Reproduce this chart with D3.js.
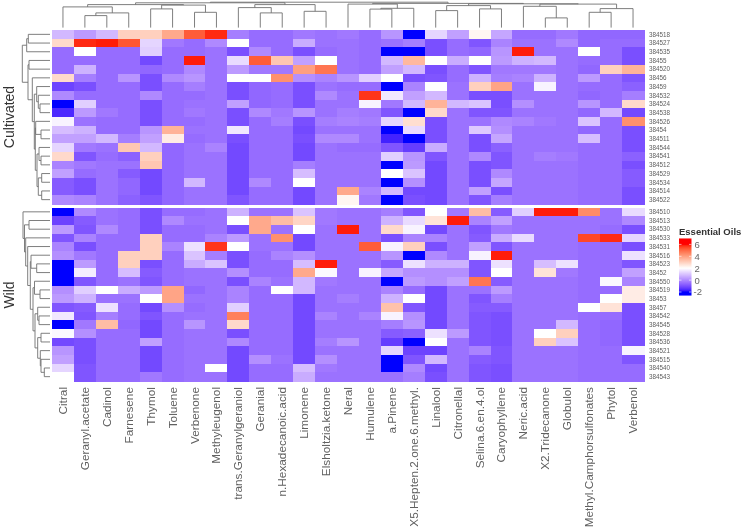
<!DOCTYPE html>
<html><head><meta charset="utf-8">
<script src="https://cdn.jsdelivr.net/npm/d3@7"></script>
<style>html,body{margin:0;padding:0;background:#fff}svg{display:block;font-family:"Liberation Sans",Arial,sans-serif;filter:blur(0.4px)}</style>
</head><body><svg id="c" width="745" height="529"></svg>
<script>
const columns=["Citral","Geranyl.acetate","Cadinol","Farnesene","Thymol","Toluene","Verbenone","Methyleugenol","trans.Geranylgeraniol","Geranial","n.Hexadecanoic.acid","Limonene","Elsholtzia.ketone","Neral","Humulene","a.Pinene","X5.Hepten.2.one.6.methyl.","Linalool","Citronellal","Selina.6.en.4.ol","Caryophyllene","Neric.acid","X2.Tridecanone","Globulol","Methyl.Camphorsulfonates","Phytol","Verbenol"];
const rowsCultivated=["384518","384527","384535","38455","384520","38456","38459","384532","384524","384538","384526","38454","384511","384544","384541","384512","384529","384534","384514","384522"];
const rowsWild=["384510","384513","384530","384533","384531","384516","384523","38452","384550","384519","38453","38457","384542","384545","384528","384536","384521","384515","384540","384543"];
const valuesCultivated=[
[.8,.3,.8,3,3,3.8,5.2,5.8,-.2,-.5,-.5,-.3,-.4,-.3,-.5,.2,-2,1.3,.4,2.2,.5,-.5,-.5,-.3,-.6,-.6,-.6],
[2.8,5.8,5.9,5.3,1.3,-.3,-.5,0,2,-.5,-.5,.6,-.4,-.4,-.5,-.4,-.2,-1,-.5,-.9,-.1,-.4,-.4,0,-.6,-.5,-.5],
[-.5,2,-.5,-.5,1.2,-.5,-.5,-.4,-1,0,-.5,-1,-.5,-.4,-.5,-2,-2,-1,-.5,-.6,.2,5.9,-.4,-.4,2,-.5,-1],
[-.5,-.5,-.5,-.5,-1.1,-.5,5.9,-.4,1.4,5.2,3.2,.4,2,-.4,-.5,.8,3.5,2,.6,2,.3,.7,.8,-.4,-.5,-.5,-1],
[-.5,.7,-.5,-.5,-.6,-.5,0,-.4,.3,-.3,-.3,4,4.8,-.4,-.5,.4,.8,-1,-.5,-.9,-.3,-.3,-.3,-.4,-.6,3,3.6],
[2.8,-.2,-.5,.2,-1,0,.2,-.4,2,2,4.3,.1,-.1,.2,1.2,2,-1,-.9,-.5,.7,-.2,-.1,.7,-.4,.3,-.5,-.9],
[-1.2,-1,-.5,-.5,-1,-.5,-.2,-.4,-1,-.6,-.5,-1,-.4,-.5,-.5,-2,-.1,2,-.4,3,3.9,-.4,1.8,-.4,-.5,-.5,-.7],
[0,-.5,-.5,-.5,0,-.5,-.5,-.4,-1,-.6,-.5,-1,0,-.4,5.7,1.6,.4,.8,-.4,-1,-1,-.4,-.4,-.4,-.6,-.5,-.2],
[-2,1.2,-.5,-.5,-1,-.5,-.4,-.4,.4,-.6,-.5,-1,-.4,-.4,1.8,-.3,.8,3.6,.8,1,-1,.1,-.4,-.4,.2,-.5,2.8],
[-1.6,.3,-.3,-.5,-1,-.5,-.3,-.4,-1,0,-.3,.2,-.4,-.2,-.3,-.9,-2,2.8,-.4,-.9,-.9,-.4,-.4,-.4,-.6,.8,-1.1],
[1.8,-.4,-.5,-.5,-1,-.5,-.5,-.4,-1,-.5,-.2,-1,-.2,-.1,-.2,1.3,2.7,-1,-.4,-.4,0,-.1,-.3,-.4,1,-.5,4.3],
[.9,.7,-.5,-.5,.2,3.6,-.4,-.4,1.6,-.5,-.5,-1.1,-.4,-.4,-.4,-2,1.4,-1,-.4,1.1,.1,-.4,-.4,-.4,-.6,-.5,-1],
[.4,.4,.8,-.2,.4,2.4,-.5,-.4,-1,-.5,-.5,-1,0,0,-.4,-1.7,-2,-1,-.4,-1,.5,-.4,-.4,-.4,.9,-.5,-1],
[1.3,-.3,-.4,3.2,.8,-.6,-.4,-.1,-1.1,-.5,-.5,-1.1,-.4,-.5,-.5,-.9,-1.3,.6,-.4,-1,-.7,-.4,-.4,-.4,-.5,-.5,-1],
[2.8,-.9,-.5,-.7,3,-.6,-.4,-.4,-1.1,-.5,-.5,-1.1,-.4,-.4,-.4,1.2,.2,-.9,-.4,0,-.9,-.4,-.2,-.3,-.5,-.5,-.7],
[-.1,-.3,-.4,-.4,3.2,-.6,-.4,-.4,-1.1,-.5,-.5,-.2,-.4,-.4,-.4,-2,.3,-1.1,-.4,-1,-.9,-.4,-.4,-.4,-.5,-.5,-1],
[.4,-.5,-.4,-.8,-1.1,-.6,-.4,-.4,-1.1,-.5,-.5,.9,-.4,-.4,-.4,2,1,-1.1,-.4,-1,0,-.4,-.4,-.4,-.5,-.5,-.8],
[-.8,-1,-.4,-.6,-1.1,-.6,.8,-.4,-1.1,0,-.5,2,-.4,-.4,-.4,-2,.1,-1.1,-.4,-1,.5,-.4,-.4,-.4,-.5,-.5,-.8],
[-.8,-1,-.4,-.6,-1.1,-.6,-.4,-.4,-1.1,-.5,-.5,-1.1,-.4,3.8,-.1,.8,-1.1,-1.1,-.4,.4,-1,-.4,-.4,-.4,-.5,-.5,-1],
[0,-.1,-.4,-.7,-.9,-.6,-.4,-.4,-.9,-.5,-.5,-1.1,-.4,2.2,-.3,-2,-1,-1.1,-.4,-.9,-.2,-.4,-.4,-.4,-.5,-.5,-1]];
const valuesWild=[
[-2,0,-.4,-.5,-1,-.5,-.5,-.4,.7,-.4,-.4,1,-.3,-.4,-.4,-.2,-.9,2,-.3,3.4,-.8,1.2,5.9,5.9,4.4,-.4,1.4],
[-1.2,-.8,-.4,-.5,-1,0,-.4,-.4,2,3.8,3.4,2.9,-.3,-.4,-.4,.7,1.4,2.6,5.9,-.1,.4,-.4,-.4,-.4,-.4,-.4,0],
[.3,-.9,0,-.5,-1,-.5,-.5,-.4,-1,3.8,-.4,2,-.4,5.9,-.4,2.8,1.8,-1.1,-.4,-.9,-.3,-.4,-.4,-.4,-.4,-.5,-1],
[-.9,-.1,-.5,-.5,3,-.5,-.5,-.1,.3,-.4,4.3,-1.1,-.4,-.4,-.4,-1,-.1,-.1,-.4,-.8,.6,1.4,-.4,-.4,5.5,5.8,1.3],
[-.1,-1,-.5,-.5,3,-.1,1.5,5.7,2,-.4,-.4,-1.1,-.4,-.4,5.2,1.8,3,-1,-.4,.4,-.9,-.4,-.4,-.4,-.5,-.5,-1],
[.1,-.3,-.5,3,3,-.5,1,-.2,-1,-.5,-.1,.1,-.4,-.4,-.4,.2,-2,0,-.4,1.8,5.9,-.4,-.4,-.4,-.5,-.5,1.5],
[-2,.3,-.5,3,-1,-.5,.6,1,-1,-.5,-.5,.9,5.9,-.4,-.4,-.8,1.5,.7,.7,-.9,1.5,-.4,.9,1.5,-.5,-.5,-.9],
[-2,1.7,-.5,.9,-.8,-.5,-.4,-.4,.1,-.5,-.5,3.8,1.9,-.4,1.8,.5,.1,.1,.1,-.9,2,-.4,2.6,-.3,-.5,-.5,.4],
[-2,-.9,-.5,-.4,-.9,-.5,-.4,-.4,-1,-.1,-.4,.8,-.3,-.4,-.4,-2,.3,.1,.4,4.8,-.8,-.4,-.4,-.4,-.5,1.9,-.1],
[.1,1.2,2,.6,.3,3.9,-.6,-.4,-.1,-.5,2,.8,-.4,-.4,-.4,-.1,-.5,-1.1,-.4,-.4,.3,-.4,-.4,-.4,-.5,-.5,2.4],
[.3,.7,-.4,-.4,2,3.9,-.4,-.4,-.1,-.5,-.5,-1.1,-.4,-.2,-.4,.7,2,-1.1,-.4,-.9,-.2,-.4,-.4,-.4,-.5,2,2.4],
[-.9,-.8,1.5,-.5,-1.1,.1,-.5,-.4,1.2,-.5,-.5,-1.1,-.4,-.4,-.4,3.3,-.9,-1.1,-.4,-.8,-.8,-.4,-.4,-.4,2,2.6,-1],
[1.6,-.9,-.2,-.5,-.9,-.5,-.4,-.4,4.6,-.5,-.5,-1.1,-.1,-.4,-.1,1.8,.1,-1.1,-.4,-.9,-1,-.4,-.4,-.4,-.5,-.5,-1],
[-2,-.3,3.4,-.6,-1.1,-.5,.2,-.4,2.8,-.5,-.5,-1.1,-.4,-.4,-.4,-.2,.2,-1.1,-.4,-.9,-1,-.4,-.4,.8,-.5,-.6,-1],
[1.9,.1,-.5,-.5,-1.1,-.5,-.4,-.4,-1,-.5,-.5,-1.1,-.4,-.4,-.4,-.8,-.7,1.5,.3,-.9,-1,-.4,2,3,-.5,-.6,-1],
[-1.1,-1,-.5,-.5,.4,-.5,-.4,-.4,0,-.5,-.5,-1.1,-.2,.2,-.4,-1.3,-2,2,-.4,-.9,-1,-.4,3,1,-.5,-.6,-1],
[.2,-1,-.5,-.5,-1.1,-.5,-.4,-.4,-1.1,-.5,-.5,-1.1,-.4,-.4,-.4,1.3,-1.2,-1.2,-.4,-.1,-.9,-.4,-.4,-.4,-.5,-.5,1.8],
[.4,-1,-.5,-.5,-1.1,-.5,-.4,-.4,-1.1,.1,-.4,-1.1,.1,-.4,-.4,-2,-.9,.8,-.4,-.8,-.9,-.4,-.4,-.4,-.5,-.5,-.9],
[1.3,-.9,-.5,-.5,-1.1,-.5,-.4,2,-1.1,-.5,-.5,.9,-.3,-.4,-.4,-2,0,-1.1,-.4,-.9,-1,-.4,-.4,-.4,-.5,-.5,-.5],
[2,-.9,-.5,-.5,-.3,-.5,-.4,-.4,-1.1,-.5,-.5,.6,-.4,-.4,-.4,-.4,-.2,-1,-.4,-.9,-1,-.4,-.4,-.4,-.5,-.5,-.5]];
// dendrograms: [height, childA, childB], leaves are indices
const columnTree=[25.4,[24.8,[23,[20.7,0,[14.7,[12,1,2],3]],[22.5,[18.7,4,5],[15.3,6,7]]],[23,[20,8,[14.7,9,10]],[16.3,11,12]]],[24.2,[23.5,13,[19.3,[18.5,14,15],16]],[23.8,[22,[17,17,18],[18.7,19,20]],[23.5,[21.3,21,[9.7,22,23]],[19,[15.3,24,25],26]]]]];
const cultivatedTree=[27.7,[23.3,[21.7,0,1],2],[22,[21,3,4],[17.7,5,[15.7,[13.3,6,[11.7,7,[10,8,9]]],[14.7,[14.3,10,[9,11,12]],[13,[11,13,[9,14,15]],[11.7,[8.3,16,17],[8.3,18,19]]]]]]]];
const wildTree=[27,0,[25.5,[21,1,2],[24.3,3,[22.3,4,[19.7,[19,5,[13.3,6,7]],[17,[15.5,8,[10,9,10]],[15,[12.3,11,[11,12,13]],[12.3,[9,14,15],[9.7,16,[9,17,[5.7,18,19]]]]]]]]]]];
const legendTicks=[6,4,2,0,-2];

const svg=d3.select("#c");
const color=d3.scaleLinear().domain([-2,2,6]).range(["#0000ff","#ffffff","#ff0000"]).interpolate(d3.interpolateLab).clamp(true);
const x=d3.scaleBand().domain(d3.range(columns.length)).range([52,644]);
const y1=d3.scaleBand().domain(d3.range(rowsCultivated.length)).range([30,204]);
const y2=d3.scaleBand().domain(d3.range(rowsWild.length)).range([207.5,381]);
const ink="#606060";

function heat(vals,y,names){
  const g=svg.append("g").attr("shape-rendering","crispEdges");
  vals.forEach((r,i)=>{
    g.append("g").selectAll("rect").data(r).join("rect")
      .attr("x",(d,j)=>x(j)).attr("y",y(i)).attr("width",x.bandwidth()+.5).attr("height",y.bandwidth()+.5)
      .attr("fill",d=>color(d));
  });
  svg.append("g").selectAll("text").data(names).join("text")
    .attr("x",649).attr("y",(d,i)=>y(i)+y.bandwidth()/2+2.3)
    .attr("font-size",6.3).attr("fill",ink).text(d=>d);
}
heat(valuesCultivated,y1,rowsCultivated);
heat(valuesWild,y2,rowsWild);

svg.append("g").selectAll("text").data(columns).join("text")
  .attr("transform",(d,i)=>`translate(${x(i)+x.bandwidth()/2+4},387) rotate(-90)`)
  .attr("text-anchor","end").attr("font-size",11.8).attr("fill",ink).text(d=>d);

function titleSide(t,cy){svg.append("text").attr("transform",`translate(14,${cy}) rotate(-90)`)
  .attr("text-anchor","middle").attr("font-size",14).attr("fill","#333").text(t);}
titleSide("Cultivated",117);titleSide("Wild",295);

function dendro(tree,pos,hs,horizontal){
  const g=svg.append("g").attr("fill","none").attr("stroke","#707070").attr("stroke-width",.9);
  const seg=(p1,h1,p2,h2)=>{
    const pts=horizontal?[hs(h1),pos(p1),hs(h2),pos(p2)]:[pos(p1),hs(h1),pos(p2),hs(h2)];
    g.append("line").attr("x1",pts[0]).attr("y1",pts[1]).attr("x2",pts[2]).attr("y2",pts[3]);
  };
  (function walk(n){
    if(typeof n==="number")return {p:n,h:0};
    const a=walk(n[1]),b=walk(n[2]);
    seg(a.p,a.h,a.p,n[0]);seg(b.p,b.h,b.p,n[0]);seg(a.p,n[0],b.p,n[0]);
    return {p:(a.p+b.p)/2,h:n[0]};
  })(tree);
}
const xc=d3.scaleLinear().domain([0,26]).range([x(0)+x.bandwidth()/2,x(26)+x.bandwidth()/2]);
dendro(columnTree,xc,d3.scaleLinear().domain([0,28]).range([27.6,-.4]),false);
const hx=d3.scaleLinear().domain([0,28]).range([50,22]);
const yc1=d3.scaleLinear().domain([0,19]).range([y1(0)+y1.bandwidth()/2,y1(19)+y1.bandwidth()/2]);
const yc2=d3.scaleLinear().domain([0,19]).range([y2(0)+y2.bandwidth()/2,y2(19)+y2.bandwidth()/2]);
dendro(cultivatedTree,yc1,hx,true);
dendro(wildTree,yc2,hx,true);

svg.append("text").attr("x",679).attr("y",235).attr("font-size",9.5).attr("font-weight","bold").attr("fill","#333").text("Essential Oils");
const ly=d3.scaleLinear().domain([-2,6]).range([292,244.4]);
const lg=svg.append("defs").append("linearGradient").attr("id","lg").attr("x1",0).attr("x2",0).attr("y1",1).attr("y2",0);
d3.range(-2.6,7.01,.2).forEach(v=>lg.append("stop").attr("offset",(v+2.6)/9.6).attr("stop-color",color(v)));
svg.append("rect").attr("x",679).attr("y",ly(7)).attr("width",12.5).attr("height",ly(-2.6)-ly(7)).attr("fill","url(#lg)");
legendTicks.forEach(t=>{
  svg.append("line").attr("x1",679).attr("x2",681.5).attr("y1",ly(t)).attr("y2",ly(t)).attr("stroke","#fff").attr("stroke-width",.6);
  svg.append("line").attr("x1",689).attr("x2",691.5).attr("y1",ly(t)).attr("y2",ly(t)).attr("stroke","#fff").attr("stroke-width",.6);
  svg.append("text").attr("x",t<0?693.5:694.5).attr("y",ly(t)+3.4).attr("font-size",9.5).attr("fill","#666").text(t);
});
</script></body></html>
